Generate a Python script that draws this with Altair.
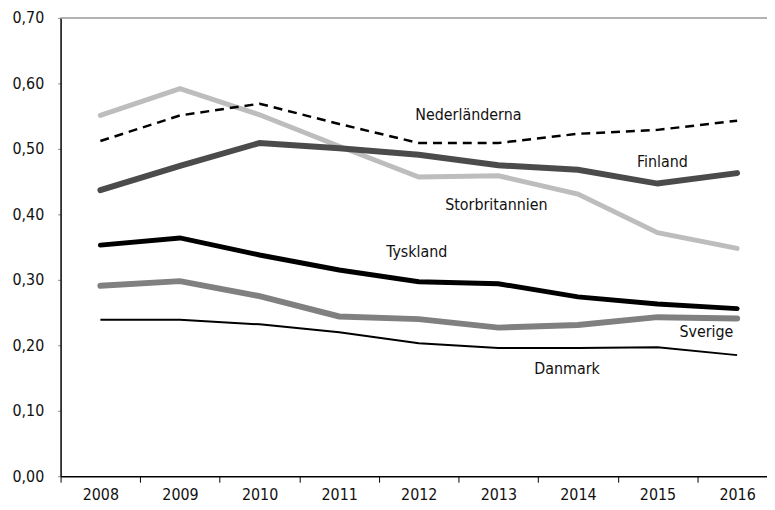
import altair as alt
import pandas as pd

years = ["2008", "2009", "2010", "2011", "2012", "2013", "2014", "2015", "2016"]

storbritannien = [0.551, 0.592, 0.552, 0.504, 0.457, 0.459, 0.431, 0.372, 0.348]
finland = [0.437, 0.474, 0.509, 0.501, 0.491, 0.475, 0.468, 0.447, 0.463]
nederlanderna = [0.512, 0.551, 0.569, 0.538, 0.509, 0.509, 0.523, 0.529, 0.543]
tyskland = [0.353, 0.364, 0.338, 0.315, 0.297, 0.294, 0.274, 0.263, 0.256]
sverige = [0.291, 0.298, 0.275, 0.244, 0.240, 0.227, 0.231, 0.243, 0.241]
danmark = [0.239, 0.239, 0.232, 0.220, 0.203, 0.196, 0.196, 0.197, 0.185]

series_names = ["Storbritannien", "Finland", "Nederländerna", "Tyskland", "Sverige", "Danmark"]
series_values = [storbritannien, finland, nederlanderna, tyskland, sverige, danmark]

# annotation anchors (year, value) for each series label
label_years = ["2012", "2015", "2013", "2012", "2016", "2014"]
label_values = [0.552, 0.480, 0.414, 0.342, 0.221, 0.164]
label_names = ["Nederländerna", "Finland", "Storbritannien", "Tyskland", "Sverige", "Danmark"]

FONT = "Liberation Sans Narrow, DejaVu Sans Condensed, Arial Narrow, sans-serif"

styles = {
    "Storbritannien": dict(color="#bdbdbd", strokeWidth=5, strokeCap="round"),
    "Finland": dict(color="#4b4b4b", strokeWidth=6, strokeCap="round"),
    "Nederländerna": dict(color="#000000", strokeWidth=2.5, strokeDash=[9, 6]),
    "Tyskland": dict(color="#000000", strokeWidth=5, strokeCap="round"),
    "Sverige": dict(color="#808080", strokeWidth=6, strokeCap="round"),
    "Danmark": dict(color="#000000", strokeWidth=2),
}
label_dx = {"Nederländerna": 50, "Finland": 5, "Storbritannien": -2,
            "Tyskland": -2, "Sverige": -31, "Danmark": -11}

x_enc = alt.X(
    "year:O",
    sort=years,
    scale=alt.Scale(type="band", domain=years, range=[0, 722], paddingInner=0, paddingOuter=0),
    axis=alt.Axis(
        title=None, tickBand="extent", labelAngle=0, labelFont=FONT, labelFontSize=16,
        labelColor="#111", domainColor="#000", domainWidth=1.5, tickColor="#000",
        tickSize=6, labelPadding=4,
    ),
)
y_enc = alt.Y(
    "value:Q",
    scale=alt.Scale(domain=[0, 0.7], nice=False),
    axis=alt.Axis(
        title=None, values=[0, 0.1, 0.2, 0.3, 0.4, 0.5, 0.6, 0.7],
        labelExpr="replace(format(datum.value, '.2f'), '.', ',')",
        labelFont=FONT, labelFontSize=16, labelColor="#111", grid=False,
        domainColor="#000", domainWidth=1.5, tickColor="#888", tickSize=3, labelPadding=14,
    ),
)

layers = []
top = alt.Chart(pd.DataFrame({"v": [0.7]})).mark_rule(color="#999", strokeWidth=1.5).encode(y=alt.Y("v:Q", scale=alt.Scale(domain=[0, 0.7], nice=False)))
layers.append(top)

for name, vals in zip(series_names, series_values):
    df = pd.DataFrame({"year": years, "value": vals, "series": name})
    layers.append(alt.Chart(df).mark_line(**styles[name]).encode(x=x_enc, y=y_enc))

for name, yr, val in zip(label_names, label_years, label_values):
    df = pd.DataFrame({"year": [yr], "value": [val], "label": [name]})
    layers.append(
        alt.Chart(df).mark_text(font=FONT, fontSize=16, color="#111", align="center",
                                baseline="middle", dx=label_dx[name]).encode(x=x_enc, y=y_enc, text="label:N")
    )

chart = alt.layer(*layers).properties(
    width=712, height=462,
    autosize=alt.AutoSizeParams(type="none"),
    padding={"left": 53, "top": 8, "right": 0, "bottom": 30},
).configure_view(stroke=None)

chart.save("out.html", embed_options={"renderer": "svg", "actions": False})
